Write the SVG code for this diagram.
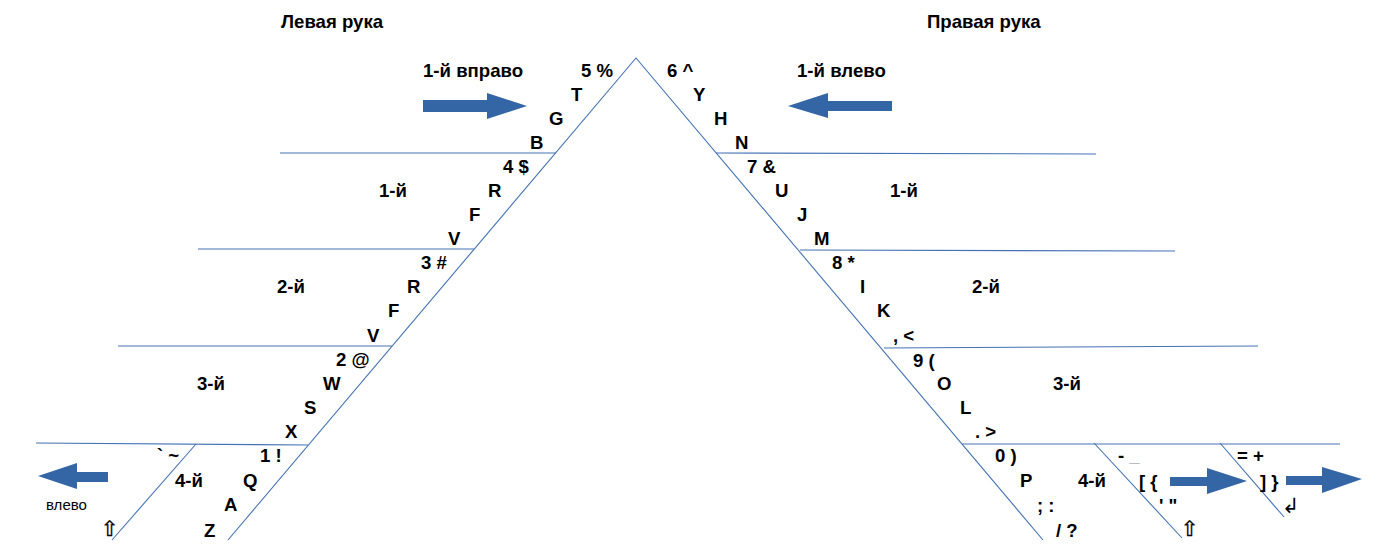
<svg xmlns="http://www.w3.org/2000/svg" width="1400" height="550" viewBox="0 0 1400 550">
<style>
.t{font-family:"Liberation Sans",Arial,sans-serif;font-weight:bold;font-size:18.6px;fill:#000}
.r{font-family:"Liberation Sans",Arial,sans-serif;font-size:15px;fill:#000}
.s{font-family:"DejaVu Sans",sans-serif;font-size:21px;fill:#000;stroke:#000;stroke-width:0.4}
.ln{stroke:#4472b4;stroke-width:1.1;fill:none}
.ar{fill:#3465a4}
</style>
<rect width="1400" height="550" fill="#fff"/>
<g id="connectors">
<path class="ln" d="M228,540 L636,58 L1043,540"/>
<path class="ln" d="M280,153 L556,153"/>
<path class="ln" d="M198,249 L474,249"/>
<path class="ln" d="M118,346 L392,346"/>
<path class="ln" d="M36,443 L308,445"/>
<path class="ln" d="M196,444 L112,540"/>
<path class="ln" d="M716,153 L1096,154"/>
<path class="ln" d="M800,250 L1175,251"/>
<path class="ln" d="M884,348 L1258,346"/>
<path class="ln" d="M962,444 L1340,444"/>
<path class="ln" d="M1094,443 L1182,538"/>
<path class="ln" d="M1220,443 L1284,517"/>
</g>
<g id="arrows">
<path class="ar" d="M423,100 L487,100 L487,93 L527,106 L487,119 L487,112 L423,112 Z"/>
<path class="ar" d="M892,101 L828,101 L828,93 L788,106 L828,118 L828,111 L892,111 Z"/>
<path class="ar" d="M108,472 L77,472 L77,463 L38,476 L77,489 L77,482 L108,482 Z"/>
<path class="ar" d="M1170,477 L1207,477 L1207,468 L1247,481 L1207,494 L1207,486 L1170,486 Z"/>
<path class="ar" d="M1286,476 L1322,476 L1322,467 L1362,479 L1322,493 L1322,485 L1286,485 Z"/>
</g>
<g id="titles">
<text class="t" x="281" y="28">Левая рука</text>
<text class="t" x="927" y="28">Правая рука</text>
<text class="t" x="423" y="77">1-й вправо</text>
<text class="t" x="797" y="77">1-й влево</text>
</g>
<g id="left-hand">
<text class="t" x="581" y="77">5 %</text>
<text class="t" x="571" y="101">T</text>
<text class="t" x="549" y="125">G</text>
<text class="t" x="530" y="149">B</text>
<text class="t" x="503" y="173">4 $</text>
<text class="t" x="488" y="197">R</text>
<text class="t" x="469" y="221">F</text>
<text class="t" x="448" y="245">V</text>
<text class="t" x="421" y="269">3 #</text>
<text class="t" x="407" y="293">R</text>
<text class="t" x="388" y="317">F</text>
<text class="t" x="367" y="342">V</text>
<text class="t" x="336" y="366">2 @</text>
<text class="t" x="323" y="390">W</text>
<text class="t" x="304" y="414">S</text>
<text class="t" x="285" y="438">X</text>
<text class="t" x="260" y="462">1 !</text>
<text class="t" x="243" y="487">Q</text>
<text class="t" x="224" y="511">A</text>
<text class="t" x="204" y="537">Z</text>
<text class="t" x="379" y="197">1-й</text>
<text class="t" x="277" y="293">2-й</text>
<text class="t" x="197" y="390">3-й</text>
<text class="t" x="175" y="487">4-й</text>
<text class="t" x="157" y="462">` ~</text>
<text class="r" x="46" y="510">влево</text>
<text class="s" x="101" y="536">⇧</text>
</g>
<g id="right-hand">
<text class="t" x="667" y="77">6 ^</text>
<text class="t" x="693" y="101">Y</text>
<text class="t" x="714" y="125">H</text>
<text class="t" x="735" y="149">N</text>
<text class="t" x="747" y="173">7 &amp;</text>
<text class="t" x="775" y="197">U</text>
<text class="t" x="797" y="221">J</text>
<text class="t" x="814" y="245">M</text>
<text class="t" x="832" y="269">8 *</text>
<text class="t" x="860" y="293">I</text>
<text class="t" x="877" y="317">K</text>
<text class="t" x="893" y="342">, &lt;</text>
<text class="t" x="913" y="367">9 (</text>
<text class="t" x="937" y="390">O</text>
<text class="t" x="960" y="414">L</text>
<text class="t" x="975" y="438">. &gt;</text>
<text class="t" x="995" y="462">0 )</text>
<text class="t" x="1020" y="487">P</text>
<text class="t" x="1037" y="512">; :</text>
<text class="t" x="1056" y="537">/ ?</text>
<text class="t" x="890" y="197">1-й</text>
<text class="t" x="972" y="293">2-й</text>
<text class="t" x="1053" y="390">3-й</text>
<text class="t" x="1078" y="487">4-й</text>
<text class="t" x="1118" y="462">- <tspan fill="#888">_</tspan></text>
<text class="t" x="1139" y="488">[ {</text>
<text class="t" x="1159" y="512">' "</text>
<text class="s" x="1181" y="536">⇧</text>
<text class="t" x="1237" y="462">= +</text>
<text class="t" x="1260" y="488">] }</text>
<text class="s" x="1282" y="513" style="stroke-width:0">↲</text>
</g>
</svg>
